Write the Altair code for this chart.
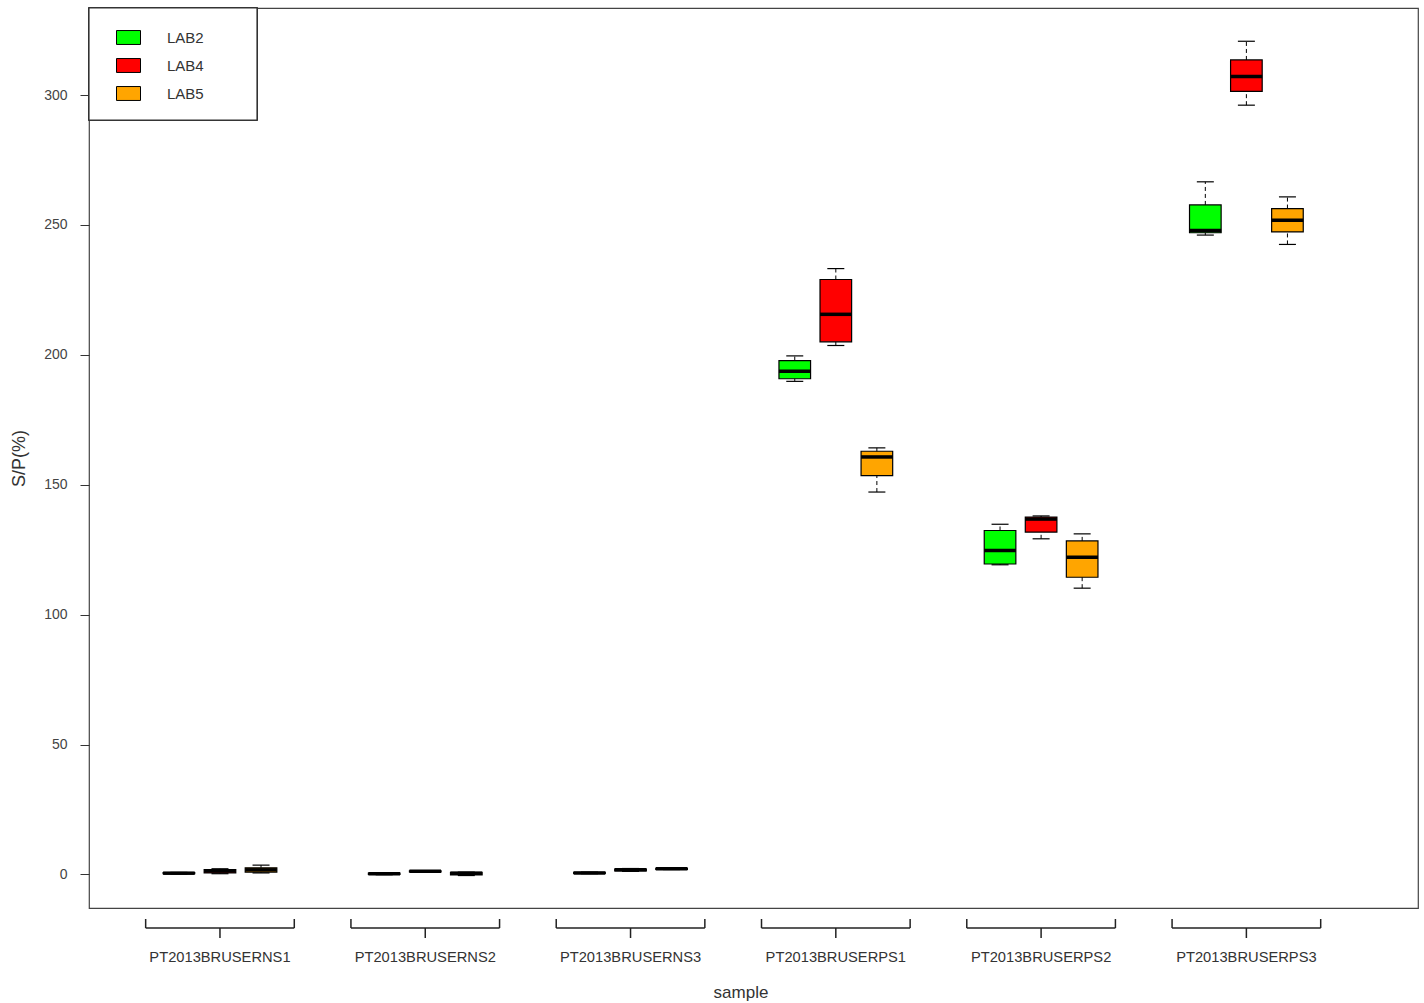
import altair as alt
import pandas as pd

samples = ["PT2013BRUSERNS1", "PT2013BRUSERNS2", "PT2013BRUSERNS3",
           "PT2013BRUSERPS1", "PT2013BRUSERPS2", "PT2013BRUSERPS3"]
labs = ["LAB2", "LAB4", "LAB5"]
colors = ["#00ff00", "#ff0000", "#ffa500"]

# five-number summaries per lab, one value per sample
lab2_low  = [0.2, -0.1, 0.3, 189.8, 119.2, 246.1]
lab2_q1   = [0.3, 0.0, 0.4, 190.8, 119.5, 247.0]
lab2_med  = [0.5, 0.3, 0.6, 193.7, 124.7, 247.9]
lab2_q3   = [0.7, 0.5, 0.8, 197.8, 132.4, 257.7]
lab2_high = [0.8, 0.6, 0.9, 199.6, 134.8, 266.6]

lab4_low  = [0.3, 0.9, 1.2, 203.6, 129.2, 296.1]
lab4_q1   = [0.6, 1.0, 1.4, 205.0, 131.8, 301.4]
lab4_med  = [1.4, 1.2, 1.8, 215.6, 136.8, 307.1]
lab4_q3   = [1.9, 1.4, 2.1, 229.0, 137.6, 313.5]
lab4_high = [2.2, 1.5, 2.3, 233.2, 138.0, 320.7]

lab5_low  = [0.6, -0.4, 1.9, 147.2, 110.2, 242.5]
lab5_q1   = [0.9, -0.2, 2.0, 153.5, 114.4, 247.3]
lab5_med  = [1.8, 0.5, 2.2, 160.7, 122.1, 251.8]
lab5_q3   = [2.6, 0.8, 2.4, 162.9, 128.4, 256.3]
lab5_high = [3.6, 0.9, 2.5, 164.2, 131.1, 260.8]

y_ticks = [0, 50, 100, 150, 200, 250, 300]
x_title = ["sample"]

stats = {
    "LAB2": (lab2_low, lab2_q1, lab2_med, lab2_q3, lab2_high),
    "LAB4": (lab4_low, lab4_q1, lab4_med, lab4_q3, lab4_high),
    "LAB5": (lab5_low, lab5_q1, lab5_med, lab5_q3, lab5_high),
}

rows = []
for li, lab in enumerate(labs):
    lo, q1, md, q3, hi = stats[lab]
    for gi, s in enumerate(samples):
        rows.append(dict(sample=s, lab=lab, g=gi, l=li,
                         lo=lo[gi], q1=q1[gi], med=md[gi], q3=q3[gi], hi=hi[gi]))
df = pd.DataFrame(rows)
gdf = pd.DataFrame({"sample": samples, "g": list(range(len(samples)))})
tdf = pd.DataFrame({"t": x_title})

FONT = "Liberation Sans"
xs = alt.Scale(domain=[-1.19, 31.18], nice=False, zero=False)
ys = alt.Scale(domain=[-12.9, 333.5], nice=False, zero=False)

base = alt.Chart(df).transform_calculate(
    pos="datum.g*5 + 1 + datum.l",
    left="datum.g*5 + 1 + datum.l - 0.385",
    right="datum.g*5 + 1 + datum.l + 0.385",
    cl="datum.g*5 + 1 + datum.l - 0.207",
    cr="datum.g*5 + 1 + datum.l + 0.207",
)

whisk_lo = base.mark_rule(color="black", strokeDash=[4, 3], strokeWidth=1).encode(
    x=alt.X("pos:Q", scale=xs, axis=None),
    y=alt.Y("lo:Q", scale=ys), y2="q1:Q")
whisk_hi = base.mark_rule(color="black", strokeDash=[4, 3], strokeWidth=1).encode(
    x=alt.X("pos:Q", scale=xs, axis=None),
    y=alt.Y("q3:Q", scale=ys), y2="hi:Q")
cap_lo = base.mark_rule(color="black", strokeWidth=1.2).encode(
    x=alt.X("cl:Q", scale=xs, axis=None), x2="cr:Q",
    y=alt.Y("lo:Q", scale=ys))
cap_hi = base.mark_rule(color="black", strokeWidth=1.2).encode(
    x=alt.X("cl:Q", scale=xs, axis=None), x2="cr:Q",
    y=alt.Y("hi:Q", scale=ys))

boxes = base.mark_rect(stroke="black", strokeWidth=1.2, opacity=1).encode(
    x=alt.X("left:Q", scale=xs, axis=None),
    x2="right:Q",
    y=alt.Y("q1:Q", scale=ys,
            axis=alt.Axis(title="S/P(%)", values=y_ticks, grid=False, domain=False,
                          tickSize=9, tickColor="#333", labelPadding=13,
                          labelFont=FONT, labelFontSize=14, labelColor="#444",
                          titleFont=FONT, titleFontSize=18, titleFontWeight="normal",
                          titleColor="#333", titlePadding=15)),
    y2="q3:Q",
    fill=alt.Fill("lab:N", scale=alt.Scale(domain=labs, range=colors),
                  legend=alt.Legend(title=None, orient="none", legendX=27, legendY=17,
                                    padding=0, symbolType="M-1,-0.58H1V0.58H-1Z",
                                    symbolSize=576, symbolStrokeColor="black",
                                    symbolStrokeWidth=1, symbolOpacity=1,
                                    rowPadding=6, labelOffset=26, labelFont=FONT,
                                    labelFontSize=15, labelColor="#333")),
)

medians = base.mark_rule(color="black", strokeWidth=3.5).encode(
    x=alt.X("left:Q", scale=xs, axis=None), x2="right:Q",
    y=alt.Y("med:Q", scale=ys))

gbase = alt.Chart(gdf).transform_calculate(
    c="datum.g*5 + 2", bl="datum.g*5 + 2 - 1.81", br="datum.g*5 + 2 + 1.81")

br_h = gbase.mark_rule(color="#222", strokeWidth=1.5).encode(
    x=alt.X("bl:Q", scale=xs, axis=None), x2="br:Q", y=alt.value(920))
br_l = gbase.mark_rule(color="#222", strokeWidth=1.5).encode(
    x=alt.X("bl:Q", scale=xs, axis=None), y=alt.value(911), y2=alt.value(920))
br_r = gbase.mark_rule(color="#222", strokeWidth=1.5).encode(
    x=alt.X("br:Q", scale=xs, axis=None), y=alt.value(911), y2=alt.value(920))
br_c = gbase.mark_rule(color="#222", strokeWidth=1.5).encode(
    x=alt.X("c:Q", scale=xs, axis=None), y=alt.value(920), y2=alt.value(930))
glabels = gbase.mark_text(font=FONT, fontSize=14.7, color="#333", baseline="middle").encode(
    x=alt.X("c:Q", scale=xs, axis=None), y=alt.value(950), text="sample:N")

xtitle = alt.Chart(tdf).mark_text(font=FONT, fontSize=17, color="#333",
                                  baseline="middle").encode(
    x=alt.value(652), y=alt.value(985), text="t:N")

legend_frame = alt.Chart(gdf).mark_rect(fill="white", stroke="#333", strokeWidth=1.2).encode(
    x=alt.value(0), x2=alt.value(168), y=alt.value(0), y2=alt.value(112))

chart = alt.layer(
    boxes, legend_frame, whisk_lo, whisk_hi, cap_lo, cap_hi, medians,
    br_h, br_l, br_r, br_c, glabels, xtitle
).properties(
    width=1329, height=900,
    autosize=alt.AutoSizeParams(type="none"),
    padding={"left": 89, "top": 8, "right": 6, "bottom": 95},
    background="white",
).configure_view(stroke="#444", strokeWidth=1.2)

chart.save("out.html", embed_options={"renderer": "svg", "actions": False})
